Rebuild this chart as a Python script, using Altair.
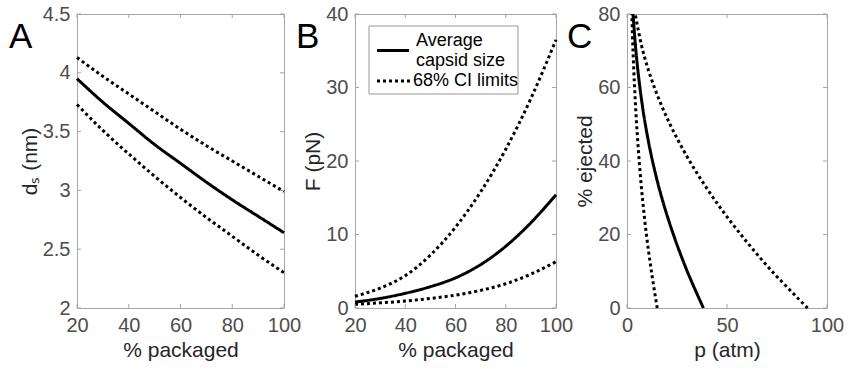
import altair as alt
import pandas as pd

# ---------------- data ----------------
pct = [20, 30, 40, 50, 60, 70, 80, 90, 100]
ds_mean = [3.95, 3.75, 3.57, 3.39, 3.23, 3.07, 2.92, 2.78, 2.64]
ds_upper = [4.13, 3.97, 3.82, 3.67, 3.52, 3.38, 3.25, 3.12, 2.99]
ds_lower = [3.73, 3.51, 3.31, 3.12, 2.94, 2.77, 2.61, 2.45, 2.30]

F_mean = [0.8, 1.3, 2.0, 2.9, 4.1, 5.9, 8.4, 11.6, 15.4]
F_upper = [1.6, 2.7, 4.4, 7.2, 11.0, 15.8, 21.6, 28.5, 36.5]
F_lower = [0.5, 0.7, 0.95, 1.3, 1.75, 2.4, 3.3, 4.6, 6.3]

ejected = [0, 10, 20, 30, 40, 50, 60, 70, 80]
p_mean = [38.2, 30.1, 23.2, 17.4, 12.75, 9.15, 6.45, 4.45, 3.0]
p_lower = [15.1, 12.2, 9.7, 7.7, 6.1, 4.8, 3.8, 3.0, 2.4]
p_upper = [90.3, 72.5, 56.9, 43.1, 31.3, 21.5, 13.7, 7.9, 4.1]

ticks_pct = [20, 40, 60, 80, 100]
ticks_ds = [2, 2.5, 3, 3.5, 4, 4.5]
ticks_F = [0, 10, 20, 30, 40]
ticks_p = [0, 50, 100]
ticks_ej = [0, 20, 40, 60, 80]

legend_labels = ["Average", "capsid size", "68% CI limits"]

GREY = "#a6a6a6"
TL = 4  # inner tick length


def long_df(xs, series, xname, yname):
    rows = []
    for sname, kind, ys in series:
        for xv, yv in zip(xs, ys):
            rows.append({xname: xv, yname: yv, "series": sname, "kind": kind})
    return pd.DataFrame(rows)


def panel(df, xf, yf, xdom, ydom, xt, yt, xtitle, ytitle, W, H, letter, lx,
          interp="monotone", order=None, extra=None):
    xs = alt.Scale(domain=xdom, nice=False, zero=False)
    ys = alt.Scale(domain=ydom, nice=False, zero=False)
    xa = alt.Axis(values=xt, title=xtitle, format=".4~g", labelOverlap=False, labelFlush=False)
    ya = alt.Axis(values=yt, title=ytitle, format=".4~g", labelOverlap=False, labelFlush=False)
    enc = dict(
        x=alt.X(f"{xf}:Q", scale=xs, axis=xa, title=xtitle),
        y=alt.Y(f"{yf}:Q", scale=ys, axis=ya, title=ytitle),
        strokeDash=alt.StrokeDash("kind:N", scale=alt.Scale(domain=["mean", "ci"], range=[[1, 0], [3, 3]]),
                                  legend=None),
        detail="series:N",
    )
    if order:
        enc["order"] = alt.Order(f"{order}:Q")
    lines = alt.Chart(df).mark_line(strokeWidth=3, interpolate=interp, color="black").encode(**enc)
    xtdf = pd.DataFrame({"v": xt})
    ytdf = pd.DataFrame({"v": yt})
    rule = dict(color=GREY, strokeWidth=1)
    t_left = alt.Chart(ytdf).mark_rule(**rule).encode(
        y=alt.Y("v:Q", scale=ys, axis=ya, title=ytitle), x=alt.value(0), x2=alt.value(TL))
    t_right = alt.Chart(ytdf).mark_rule(**rule).encode(
        y=alt.Y("v:Q", scale=ys, axis=ya, title=ytitle), x=alt.value(W - TL), x2=alt.value(W))
    t_bot = alt.Chart(xtdf).mark_rule(**rule).encode(
        x=alt.X("v:Q", scale=xs, axis=xa, title=xtitle), y=alt.value(H - TL), y2=alt.value(H))
    t_top = alt.Chart(xtdf).mark_rule(**rule).encode(
        x=alt.X("v:Q", scale=xs, axis=xa, title=xtitle), y=alt.value(0), y2=alt.value(TL))
    let = alt.Chart(pd.DataFrame({"t": [letter]})).mark_text(
        fontSize=35, align="left", baseline="alphabetic", color="black", font="Liberation Sans"
    ).encode(text="t:N", x=alt.value(lx), y=alt.value(34))
    layers = [lines, t_left, t_right, t_bot, t_top, let]
    if extra:
        layers += extra
    return alt.layer(*layers).properties(width=W, height=H)


W_A, W_B, W_C, H = 207, 201, 200, 294

dfA = long_df(pct, [("mean", "mean", ds_mean), ("upper", "ci", ds_upper), ("lower", "ci", ds_lower)], "pct", "ds")
dfB = long_df(pct, [("mean", "mean", F_mean), ("upper", "ci", F_upper), ("lower", "ci", F_lower)], "pct", "F")
dfC = long_df(ejected, [("mean", "mean", p_mean), ("upper", "ci", p_upper), ("lower", "ci", p_lower)], "ej", "p")

# manual legend for panel B
leg_box = alt.Chart(pd.DataFrame({"a": [0]})).mark_rect(fill="white", stroke="#999999", strokeWidth=1).encode(
    x=alt.value(14), x2=alt.value(163), y=alt.value(12), y2=alt.value(80))
leg_solid = alt.Chart(pd.DataFrame({"a": [0]})).mark_rule(color="black", strokeWidth=3).encode(
    x=alt.value(22), x2=alt.value(54), y=alt.value(36.5))
leg_dot = alt.Chart(pd.DataFrame({"a": [0]})).mark_rule(color="black", strokeWidth=3, strokeDash=[3, 3]).encode(
    x=alt.value(22), x2=alt.value(57), y=alt.value(67))
leg_txt = alt.Chart(pd.DataFrame({"t": legend_labels, "px": [61, 61, 58], "py": [27, 46.5, 67]})).mark_text(
    fontSize=18, align="left", baseline="middle", color="black", font="Liberation Sans"
).encode(text="t:N", x=alt.X("px:Q", scale=None), y=alt.Y("py:Q", scale=None))

A = panel(dfA, "pct", "ds", [20, 100], [2, 4.5], ticks_pct, ticks_ds, "% packaged", "dₛ (nm)", W_A, H, "A", -68)
B = panel(dfB, "pct", "F", [20, 100], [0, 40], ticks_pct, ticks_F, "% packaged", "F (pN)", W_B, H, "B", -59,
          extra=[leg_box, leg_solid, leg_dot, leg_txt])
C = panel(dfC, "p", "ej", [0, 100], [0, 80], ticks_p, ticks_ej, "p (atm)", "% ejected", W_C, H, "C", -60,
          interp="catmull-rom", order="ej")

chart = alt.hconcat(A, B, C, spacing=71, bounds="flush").resolve_scale(
    strokeDash="independent"
).properties(
    padding={"left": 8, "top": 3, "right": 0, "bottom": 0}
).configure(
    font="Liberation Sans",
).configure_view(
    stroke=GREY, strokeWidth=1
).configure_axis(
    domain=False, ticks=False, tickSize=0, grid=False,
    labelFontSize=20, labelColor="#4d4d4d", labelFont="Liberation Sans",
    titleFontSize=21, titleColor="#262626", titleFont="Liberation Sans", titleFontWeight="normal",
).configure_axisX(
    labelPadding=7, titlePadding=4,
).configure_axisY(
    labelPadding=7, titlePadding=2,
)

chart.save("out.html", embed_options={"renderer": "svg", "actions": False})
